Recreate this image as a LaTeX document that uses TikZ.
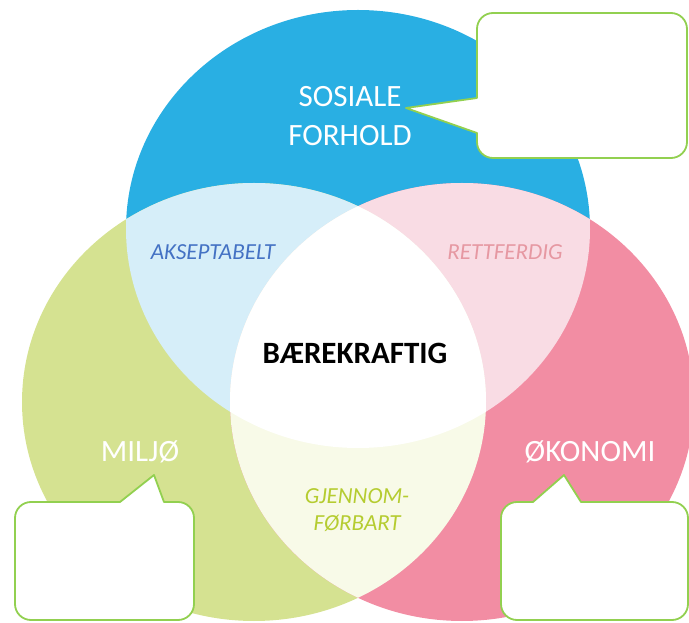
\documentclass[tikz,border=0pt]{standalone}
\usepackage{fontspec}
\setmainfont{Carlito}
\definecolor{sosblue}{RGB}{41,175,227}
\definecolor{miljgreen}{RGB}{213,226,145}
\definecolor{okopink}{RGB}{242,141,163}
\definecolor{lightblue}{RGB}{214,238,249}
\definecolor{lightpink}{RGB}{249,220,228}
\definecolor{paleyellow}{RGB}{248,250,232}
\definecolor{aksblue}{RGB}{68,114,196}
\definecolor{retpink}{RGB}{230,152,162}
\definecolor{gjgreen}{RGB}{181,204,48}
\definecolor{callgreen}{RGB}{146,208,80}

\begin{document}
\begin{tikzpicture}[x=1pt, y=1pt,
    venn/.style={x radius=232, y radius=219},
    bigtext/.style={text=white, font=\fontsize{31}{39}\selectfont, align=center},
    overlap/.style={font=\fontsize{23}{27}\selectfont\itshape, align=center},
    callout/.style={draw=callgreen, line width=1.8pt, fill=white, line join=round}]
    \useasboundingbox (0,0) rectangle (689,622);
    \clip (0,0) rectangle (689,622);
    % the three circles
    \fill[sosblue] (358,393) ellipse [venn];
    \fill[miljgreen] (254,220) ellipse [venn];
    \fill[okopink] (462,220) ellipse [venn];
    % overlaps
    \begin{scope}
        \clip (358,393) ellipse [venn];
        \fill[lightblue] (254,220) ellipse [venn];
        \fill[lightpink] (462,220) ellipse [venn];
    \end{scope}
    \begin{scope}
        \clip (254,220) ellipse [venn];
        \fill[paleyellow] (462,220) ellipse [venn];
        \clip (358,393) ellipse [venn];
        \fill[white] (462,220) ellipse [venn];
    \end{scope}
    \node[bigtext] (sosiale) at (350,506) {SOSIALE\\FORHOLD};
    \node[bigtext] (miljo) at (140,170) {MILJØ};
    \node[bigtext] (okonomi) at (590,170) {ØKONOMI};
    \node[font=\fontsize{31}{39}\selectfont\bfseries] (baere) at (355,269) {BÆREKRAFTIG};
    \node[overlap, text=aksblue] (akseptabelt) at (213,370) {AKSEPTABELT};
    \node[overlap, text=retpink] (rettferdig) at (505,370) {RETTFERDIG};
    \node[overlap, text=gjgreen] (gjennom) at (357,112) {GJENNOM-\\FØRBART};
    % callouts
    \coordinate (tipS) at (406,514);
    \coordinate (tipM) at (154,147);
    \coordinate (tipO) at (564,147);
    \draw[callout] (582,609) [rounded corners=16] -- (477,609) [sharp corners] -- (477,524) -- (tipS) -- (477,489) [rounded corners=16] -- (477,464) -- (687,464) -- (687,609) -- cycle;
    \draw[callout] (15,60) [rounded corners=16] -- (15,120) [sharp corners] -- (120,120) -- (tipM) -- (164,120) [rounded corners=16] -- (194,120) -- (194,2) -- (15,2) -- cycle;
    \draw[callout] (501,60) [rounded corners=16] -- (501,120) [sharp corners] -- (533,120) -- (tipO) -- (581,120) [rounded corners=16] -- (688,120) -- (688,2) -- (501,2) -- cycle;
\end{tikzpicture}
\end{document}
